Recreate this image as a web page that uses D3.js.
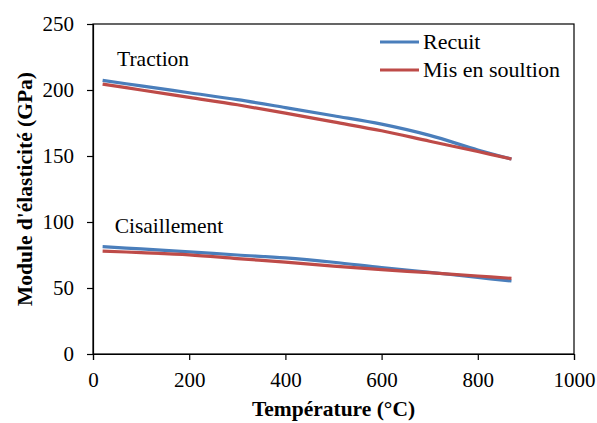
<!DOCTYPE html>
<html>
<head>
<meta charset="utf-8">
<script src="https://cdn.jsdelivr.net/npm/d3@7"></script>
<style>
html,body{margin:0;padding:0;background:#fff;}
svg text{font-family:"Liberation Serif","Times New Roman","DejaVu Serif",serif !important;fill:#000;}
</style>
</head>
<body>
<svg id="chart" width="597" height="423"></svg>
<script>
const temps = [20, 100, 200, 300, 400, 500, 600, 700, 800, 870];
const tractionRecuit = [207.3, 203.1, 197.9, 192.7, 186.7, 180.5, 174.1, 165.6, 154.6, 147.7];
const tractionSolution = [204.5, 200.0, 194.4, 188.8, 182.5, 175.8, 169.1, 161.2, 153.4, 147.7];
const shearRecuit = [81.3, 79.6, 77.4, 75.0, 72.8, 69.5, 65.5, 61.9, 58.0, 55.3];
const shearSolution = [78.0, 76.8, 75.1, 72.3, 69.6, 66.6, 63.9, 61.6, 59.1, 57.3];
const xTicks = [0, 200, 400, 600, 800, 1000];
const yTicks = [0, 50, 100, 150, 200, 250];
const seriesNames = ["Recuit", "Mis en soultion"];
const seriesColors = ["#4A7EBB", "#BE4B48"];
const annotations = [{text: "Traction", x: 50, y: 218}, {text: "Cisaillement", x: 45, y: 92}];

const FONT = '"Liberation Serif","Times New Roman","DejaVu Serif",serif';
const svg = d3.select("#chart");
const m = {left: 93, right: 574, top: 24, bottom: 354};
const x = d3.scaleLinear().domain([0, 1000]).range([m.left, m.right]);
const y = d3.scaleLinear().domain([0, 250]).range([m.bottom, m.top]);

svg.append("rect").attr("x", m.left).attr("y", m.top)
  .attr("width", m.right - m.left).attr("height", m.bottom - m.top)
  .attr("fill", "none").attr("stroke", "#000").attr("stroke-width", 1.2);

const xAxis = svg.append("g").attr("transform", `translate(0,${m.bottom})`)
  .call(d3.axisBottom(x).tickValues(xTicks).tickFormat(d3.format("d")).tickSize(6).tickPadding(12));
const yAxis = svg.append("g").attr("transform", `translate(${m.left},0)`)
  .call(d3.axisLeft(y).tickValues(yTicks).tickFormat(d3.format("d")).tickSize(6).tickPadding(13));
[xAxis, yAxis].forEach(g => {
  g.attr("font-family", FONT).attr("font-size", 21);
  g.selectAll("path.domain").attr("stroke", "#000").attr("stroke-width", 1.2);
  g.selectAll(".tick line").attr("stroke", "#000").attr("stroke-width", 1.2);
  g.selectAll(".tick text").attr("font-family", FONT).attr("font-size", 21).attr("fill", "#000");
});

const line = d3.line().x(d => x(d[0])).y(d => y(d[1])).curve(d3.curveCatmullRom.alpha(0.5));
const groups = [
  [tractionRecuit, tractionSolution],
  [shearRecuit, shearSolution]
];
groups.forEach(pair => {
  pair.forEach((vals, i) => {
    svg.append("path").datum(temps.map((t, k) => [t, vals[k]]))
      .attr("d", line).attr("fill", "none")
      .attr("stroke", seriesColors[i]).attr("stroke-width", 3.2);
  });
});

function txt(sel, fs) { return sel.attr("font-family", FONT).attr("font-size", fs || 21.5).attr("fill", "#000"); }

annotations.forEach(a => {
  txt(svg.append("text")).attr("x", x(a.x)).attr("y", y(a.y)).text(a.text);
});

seriesNames.forEach((n, i) => {
  const ly = 42 + i * 28;
  svg.append("line").attr("x1", 380).attr("x2", 419).attr("y1", ly).attr("y2", ly)
    .attr("stroke", seriesColors[i]).attr("stroke-width", 3.2);
  txt(svg.append("text"), 22).attr("x", 423).attr("y", ly + 7).text(n);
});

txt(svg.append("text")).attr("x", (m.left + m.right) / 2).attr("y", 416)
  .attr("text-anchor", "middle").attr("font-weight", "bold")
  .text("Température (°C)");
txt(svg.append("text")).attr("transform", `translate(32,${(m.top + m.bottom) / 2}) rotate(-90)`)
  .attr("text-anchor", "middle").attr("font-weight", "bold")
  .text("Module d'élasticité (GPa)");
</script>
</body>
</html>
